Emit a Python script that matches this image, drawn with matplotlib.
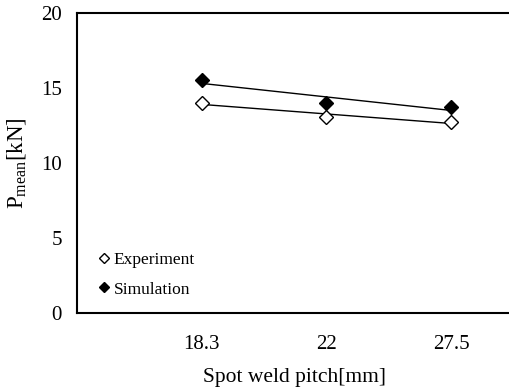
import matplotlib as mpl
mpl.use('Agg')
import matplotlib.pyplot as plt
import numpy as np

# data
pitch_labels = ['18.3', '22', '27.5']
experiment = [14.0, 13.07, 12.73]
simulation = [15.5, 14.0, 13.7]

plt.rcParams['font.family'] = ['Liberation Serif', 'DejaVu Serif']
plt.rcParams['mathtext.fontset'] = 'custom'
plt.rcParams['mathtext.rm'] = 'Liberation Serif'

fig = plt.figure(figsize=(5.1, 3.89), dpi=100)
ax = fig.add_axes([0.151, 0.195, 0.853, 0.772])

x = np.arange(1, len(pitch_labels) + 1)

# trend lines (linear fit, like the spreadsheet trendline)
for vals in (experiment, simulation):
    k, b = np.polyfit(x, vals, 1)
    ax.plot(x, k * x + b, color='black', linewidth=1, zorder=2)

ax.plot(x, experiment, linestyle='none', marker='D', markersize=7,
        markerfacecolor='white', markeredgecolor='black', markeredgewidth=1,
        label='Experiment', zorder=3)
ax.plot(x, simulation, linestyle='none', marker='D', markersize=7,
        markerfacecolor='black', markeredgecolor='black',
        label='Simulation', zorder=3)

ax.set_xlim(0, 3.49)
ax.set_ylim(0, 20)
ax.set_xticks(x)
ax.set_xticklabels(pitch_labels)
ax.set_yticks([0, 5, 10, 15, 20])
ax.tick_params(length=0, labelsize=15)
ax.tick_params(axis='y', pad=11)
ax.tick_params(axis='x', pad=16)

for s in ['left', 'top', 'bottom']:
    ax.spines[s].set_linewidth(1.5)
ax.spines['right'].set_visible(False)

ax.set_xlabel('Spot weld pitch[mm]', fontsize=15.5, labelpad=10)
ax.set_ylabel(r'P$_{\mathrm{mean}}$[kN]', fontsize=16.5)
ax.yaxis.set_label_coords(-0.11, 0.5)

ax.legend(loc='lower left', bbox_to_anchor=(0.015, 0.0), frameon=False,
          fontsize=12.5, handlelength=0.6, handletextpad=0.25, markerscale=0.8,
          labelspacing=0.75)

plt.savefig('out.png', dpi=100)
